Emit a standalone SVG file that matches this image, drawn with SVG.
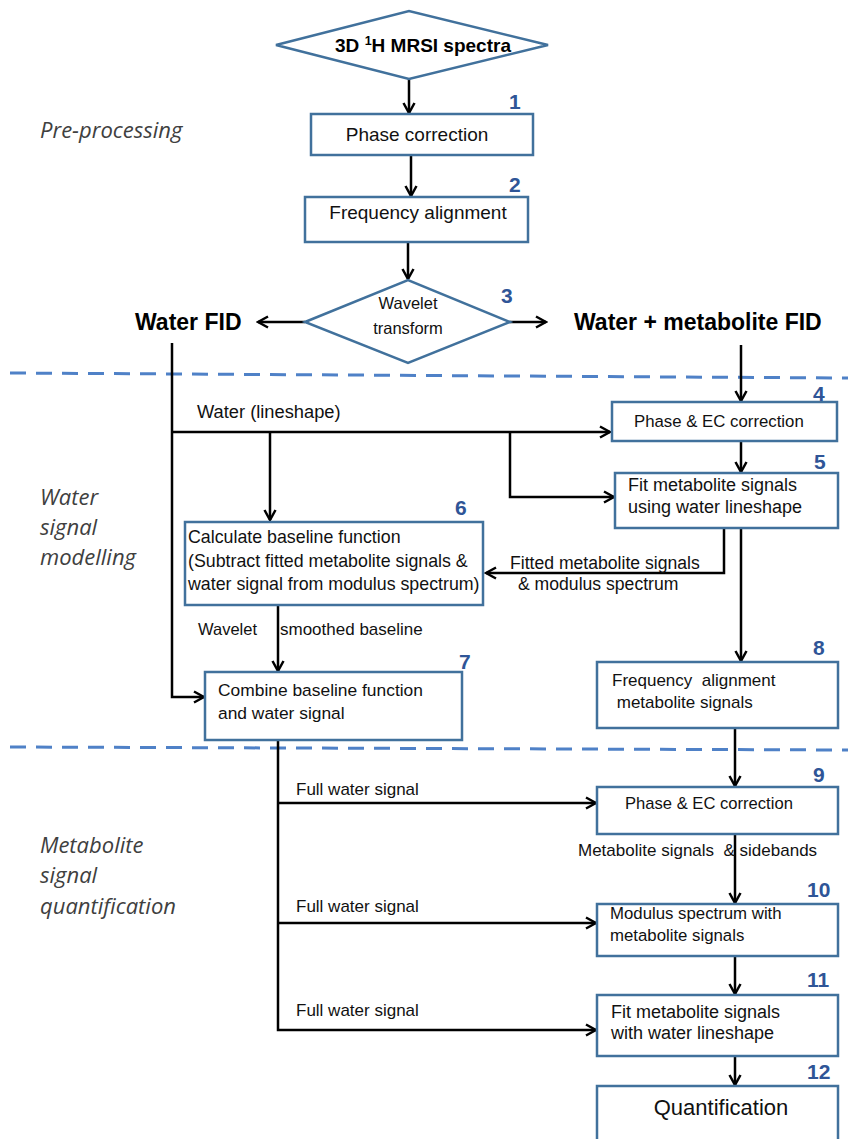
<svg xmlns="http://www.w3.org/2000/svg" width="854" height="1139" viewBox="0 0 854 1139">
<defs>
<style>
.box{fill:#fff;stroke:#41719C;stroke-width:2.5}
.t{font-family:"Liberation Sans",Arial,sans-serif;fill:#111}
.b{font-family:"Liberation Sans",Arial,sans-serif;font-weight:bold;fill:#000}
.n{font-family:"Liberation Sans",Arial,sans-serif;font-weight:bold;font-size:21px;fill:#2F5597}
.sec{font-family:"Open Sans","Liberation Sans",sans-serif;font-style:italic;font-size:22px;fill:#404040}
.c{fill:none;stroke:#000;stroke-width:2.5;marker-end:url(#arr)}
.dash{stroke:#4F81C7;stroke-width:3;stroke-dasharray:16 10;fill:none}
</style>
<marker id="arr" viewBox="0 0 14 14" refX="12" refY="7" markerWidth="14" markerHeight="14" markerUnits="userSpaceOnUse" orient="auto">
<path d="M2,1.5 L12,7 L2,12.5" fill="none" stroke="#000" stroke-width="2.5"/>
</marker>
</defs>
<rect width="854" height="1139" fill="#fff"/>

<g id="sections">
<text class="sec" x="40" y="138">Pre-processing</text>
<text class="sec" x="40" y="505">Water</text>
<text class="sec" x="40" y="535">signal</text>
<text class="sec" x="40" y="565">modelling</text>
<text class="sec" x="40" y="853">Metabolite</text>
<text class="sec" x="40" y="883">signal</text>
<text class="sec" x="40" y="914">quantification</text>
<path class="dash" d="M10,373 L848,378"/>
<path class="dash" d="M10,747 L848,750"/>
</g>

<g id="connectors">
<path class="c" d="M409,79 V113"/>
<path class="c" d="M411,155 V196"/>
<path class="c" d="M408,242 V279"/>
<path class="c" d="M305,322 H258"/>
<path class="c" d="M510,322 H546"/>
<path class="c" d="M172,343 V697 H204"/>
<path class="c" d="M172,432 H610"/>
<path class="c" d="M270,432 V520"/>
<path class="c" d="M510,432 V497 H614"/>
<path class="c" d="M741,345 V401"/>
<path class="c" d="M741,441 V472"/>
<path class="c" d="M724,528 V573 H486"/>
<path class="c" d="M741,528 V661"/>
<path class="c" d="M278,605 V671"/>
<path class="c" d="M278,740 V1030 H596"/>
<path class="c" d="M278,803 H596"/>
<path class="c" d="M278,923 H596"/>
<path class="c" d="M735,728 V786"/>
<path class="c" d="M735,834 V903"/>
<path class="c" d="M735,956 V994"/>
<path class="c" d="M735,1056 V1085"/>
<text class="t" x="197" y="418" style="font-size:18.3px">Water (lineshape)</text>
<text class="t" x="510" y="569" style="font-size:17.6px">Fitted metabolite signals</text>
<text class="t" x="518" y="590" style="font-size:17.6px">&amp; modulus spectrum</text>
<text class="t" x="198" y="635" style="font-size:16.5px">Wavelet</text>
<text class="t" x="280" y="635" style="font-size:17px">smoothed baseline</text>
<text class="t" x="296" y="795" style="font-size:17px">Full water signal</text>
<text class="t" x="296" y="912" style="font-size:17px">Full water signal</text>
<text class="t" x="296" y="1016" style="font-size:17px">Full water signal</text>
<text class="t" x="578" y="856" style="font-size:17px" xml:space="preserve">Metabolite signals  &amp; sidebands</text>
</g>

<g id="start">
<polygon class="box" points="276,45 409,11 548,45 409,79"/>
<text class="b" font-size="19" x="423" y="52" text-anchor="middle">3D <tspan font-size="12.5" dy="-7">1</tspan><tspan dy="7">H MRSI spectra</tspan></text>
</g>
<g id="n1">
<rect class="box" x="311" y="114" width="222" height="41"/>
<text class="t" x="417" y="141" text-anchor="middle" style="font-size:19px">Phase correction</text>
<text class="n" x="509" y="109">1</text>
</g>
<g id="n2">
<rect class="box" x="305" y="197" width="223" height="45"/>
<text class="t" x="418" y="219" text-anchor="middle" style="font-size:19px">Frequency alignment</text>
<text class="n" x="509" y="192">2</text>
</g>
<g id="n3">
<polygon class="box" points="305,322 408,280 510,322 408,363"/>
<text class="t" x="408" y="309" text-anchor="middle" style="font-size:16.5px">Wavelet</text>
<text class="t" x="408" y="334" text-anchor="middle" style="font-size:16.5px">transform</text>
<text class="n" x="501" y="303">3</text>
</g>
<g id="waterfid">
<text class="b" font-size="23" x="135" y="330">Water FID</text>
</g>
<g id="wmfid">
<text class="b" font-size="23" x="574" y="330">Water + metabolite FID</text>
</g>
<g id="n4">
<rect class="box" x="612" y="402" width="225" height="39"/>
<text class="t" x="634" y="427" style="font-size:16.8px">Phase &amp; EC correction</text>
<text class="n" x="813" y="401">4</text>
</g>
<g id="n5">
<rect class="box" x="615" y="473" width="223" height="55"/>
<text class="t" x="628" y="491" style="font-size:18px">Fit metabolite signals</text>
<text class="t" x="628" y="513" style="font-size:18px">using water lineshape</text>
<text class="n" x="814" y="469">5</text>
</g>
<g id="n6">
<rect class="box" x="185" y="522" width="298" height="83"/>
<text class="t" x="188" y="543" style="font-size:17.8px">Calculate baseline function</text>
<text class="t" x="188" y="567" style="font-size:17.8px">(Subtract fitted metabolite signals &amp;</text>
<text class="t" x="188" y="590" style="font-size:17.8px">water signal from modulus spectrum)</text>
<text class="n" x="455" y="515">6</text>
</g>
<g id="n7">
<rect class="box" x="205" y="672" width="257" height="68"/>
<text class="t" x="218" y="696" style="font-size:17.4px">Combine baseline function</text>
<text class="t" x="218" y="719" style="font-size:17.4px">and water signal</text>
<text class="n" x="459" y="669">7</text>
</g>
<g id="n8">
<rect class="box" x="597" y="662" width="241" height="66"/>
<text class="t" x="612" y="686" style="font-size:17px" xml:space="preserve">Frequency  alignment</text>
<text class="t" x="612" y="708" style="font-size:17px" xml:space="preserve"> metabolite signals</text>
<text class="n" x="813" y="655">8</text>
</g>
<g id="n9">
<rect class="box" x="597" y="787" width="241" height="47"/>
<text class="t" x="625" y="809" style="font-size:16.6px">Phase &amp; EC correction</text>
<text class="n" x="813" y="782">9</text>
</g>
<g id="n10">
<rect class="box" x="597" y="904" width="241" height="52"/>
<text class="t" x="610" y="919" style="font-size:16.8px">Modulus spectrum with</text>
<text class="t" x="610" y="941" style="font-size:16.8px">metabolite signals</text>
<text class="n" x="807" y="897">10</text>
</g>
<g id="n11">
<rect class="box" x="597" y="995" width="241" height="61"/>
<text class="t" x="611" y="1018" style="font-size:18px">Fit metabolite signals</text>
<text class="t" x="611" y="1039" style="font-size:18px">with water lineshape</text>
<text class="n" x="807" y="987">11</text>
</g>
<g id="n12">
<rect class="box" x="597" y="1086" width="241" height="56"/>
<text class="t" x="721" y="1115" text-anchor="middle" style="font-size:22px">Quantification</text>
<text class="n" x="807" y="1079">12</text>
</g>
</svg>
